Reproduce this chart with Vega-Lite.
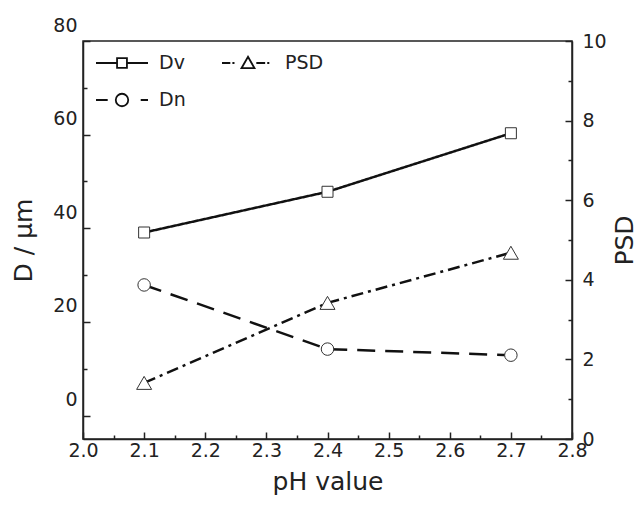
{
  "$schema": "https://vega.github.io/schema/vega-lite/v6.json",
  "width": 489,
  "height": 398,
  "autosize": "none",
  "padding": {"left": 83, "top": 41, "right": 66, "bottom": 70},
  "data": {
    "values": [
      {"series": "Dv", "pH": 2.1, "value": 39.1},
      {"series": "Dv", "pH": 2.4, "value": 47.8},
      {"series": "Dv", "pH": 2.7, "value": 60.3},
      {"series": "Dn", "pH": 2.1, "value": 27.9},
      {"series": "Dn", "pH": 2.4, "value": 14.2},
      {"series": "Dn", "pH": 2.7, "value": 12.9},
      {"series": "PSD", "pH": 2.1, "value": 1.41},
      {"series": "PSD", "pH": 2.4, "value": 3.42},
      {"series": "PSD", "pH": 2.7, "value": 4.68}
    ]
  },
  "config": {
    "font": "DejaVu Sans",
    "view": {"stroke": "#222", "strokeWidth": 1.5},
    "axis": {
      "grid": false,
      "domainColor": "#222",
      "domainWidth": 1.5,
      "tickColor": "#222",
      "tickWidth": 1.5,
      "labelColor": "#222",
      "titleColor": "#222",
      "labelFont": "DejaVu Sans",
      "titleFont": "DejaVu Sans",
      "labelFontSize": 19,
      "titleFontSize": 25,
      "titleFontWeight": "normal",
      "labelOverlap": false,
      "labelFlush": false,
      "labelBound": false
    }
  },
  "encoding": {
    "x": {
      "field": "pH",
      "type": "quantitative",
      "scale": {"domain": [2.0, 2.8], "nice": false, "zero": false},
      "axis": {
        "title": "pH value",
        "values": [2.0, 2.05, 2.1, 2.15, 2.2, 2.25, 2.3, 2.35, 2.4, 2.45, 2.5, 2.55, 2.6, 2.65, 2.7, 2.75, 2.8],
        "labelExpr": "round(datum.value*100) % 10 === 0 ? format(datum.value, '.1f') : ''",
        "tickSize": {"condition": {"test": "round(datum.value*100) % 10 === 0", "value": -7}, "value": -4},
        "labelPadding": 9,
        "titlePadding": 6
      }
    }
  },
  "layer": [
    {
      "transform": [{"filter": "datum.series !== 'PSD'"}],
      "encoding": {
        "y": {
          "field": "value",
          "type": "quantitative",
          "scale": {"domain": [-5, 80], "nice": false, "zero": false},
          "axis": {
            "title": "D / µm",
            "values": [0, 10, 20, 30, 40, 50, 60, 70, 80],
            "labelExpr": "datum.value % 20 === 0 ? datum.label : ''",
            "tickSize": {"condition": {"test": "datum.value % 20 === 0", "value": -7}, "value": -4},
            "labelOffset": -16,
            "labelPadding": 13,
            "titlePadding": 16
          }
        }
      },
      "layer": [
        {
          "mark": {"type": "line", "strokeWidth": 2.5},
          "encoding": {
            "strokeDash": {
              "field": "series",
              "type": "nominal",
              "scale": {"domain": ["Dn", "Dv", "PSD"], "range": [[18, 10], [1, 0], [12, 5, 3, 5]]},
              "legend": null
            },
            "color": {
              "field": "series",
              "type": "nominal",
              "scale": {"domain": ["Dv", "PSD", "Dn"], "range": ["#111111", "#111111", "#111111"]},
              "legend": {
                "title": null,
                "orient": "none",
                "legendX": 12,
                "legendY": -5,
                "direction": "horizontal",
                "columns": 2,
                "symbolSize": 2704,
                "symbolStrokeWidth": 1.8,
                "symbolType": {"expr": "datum.value === 'Dv' ? 'M-1,0H-0.19M0.19,0H1M-0.19,-0.19H0.19V0.19H-0.19Z' : (datum.value === 'Dn' ? 'M-1,0H-0.55M0.72,0H1M0.24,0A0.24,0.24 0 1 1 -0.24,0A0.24,0.24 0 1 1 0.24,0Z' : 'M-1,0H-0.68M-0.6,0H-0.52M0.32,0H0.66M0.74,0H0.82M0,-0.24L0.25,0.2L-0.25,0.2Z')"},
                "labelFontSize": 19,
                "labelFont": "DejaVu Sans",
                "labelColor": "#222",
                "padding": 0,
                "columnPadding": 32,
                "rowPadding": -33,
                "labelOffset": 10
              }
            }
          }
        },
        {
          "transform": [{"filter": "datum.series === 'Dv'"}],
          "mark": {"type": "point", "filled": true, "fill": "white", "stroke": "#333", "strokeWidth": 1, "opacity": 1, "size": 121, "shape": "square"},
          "encoding": {}
        },
        {
          "transform": [{"filter": "datum.series === 'Dn'"}],
          "mark": {"type": "point", "filled": true, "fill": "white", "stroke": "#333", "strokeWidth": 1, "opacity": 1, "size": 156, "shape": "circle"},
          "encoding": {}
        }
      ]
    },
    {
      "transform": [{"filter": "datum.series === 'PSD'"}],
      "encoding": {
        "y": {
          "field": "value",
          "type": "quantitative",
          "scale": {"domain": [0, 10], "nice": false, "zero": false},
          "axis": {
            "orient": "right",
            "title": "PSD",
            "titleAngle": -90,
            "values": [0, 1, 2, 3, 4, 5, 6, 7, 8, 9, 10],
            "labelExpr": "datum.value % 2 === 0 ? datum.label : ''",
            "tickSize": {"condition": {"test": "datum.value % 2 === 0", "value": -7}, "value": -4},
            "labelPadding": 17,
            "titlePadding": 31
          }
        }
      },
      "layer": [
        {
          "mark": {"type": "line", "strokeWidth": 2.5},
          "encoding": {
            "strokeDash": {
              "field": "series",
              "type": "nominal",
              "scale": {"domain": ["Dn", "Dv", "PSD"], "range": [[18, 10], [1, 0], [12, 5, 3, 5]]},
              "legend": null
            },
            "color": {
              "field": "series",
              "type": "nominal",
              "scale": {"domain": ["Dv", "PSD", "Dn"], "range": ["#111111", "#111111", "#111111"]}
            }
          }
        },
        {
          "mark": {"type": "point", "filled": true, "fill": "white", "stroke": "#333", "strokeWidth": 1, "opacity": 1, "size": 225, "shape": "triangle-up"},
          "encoding": {}
        }
      ]
    }
  ],
  "resolve": {"scale": {"y": "independent"}}
}
